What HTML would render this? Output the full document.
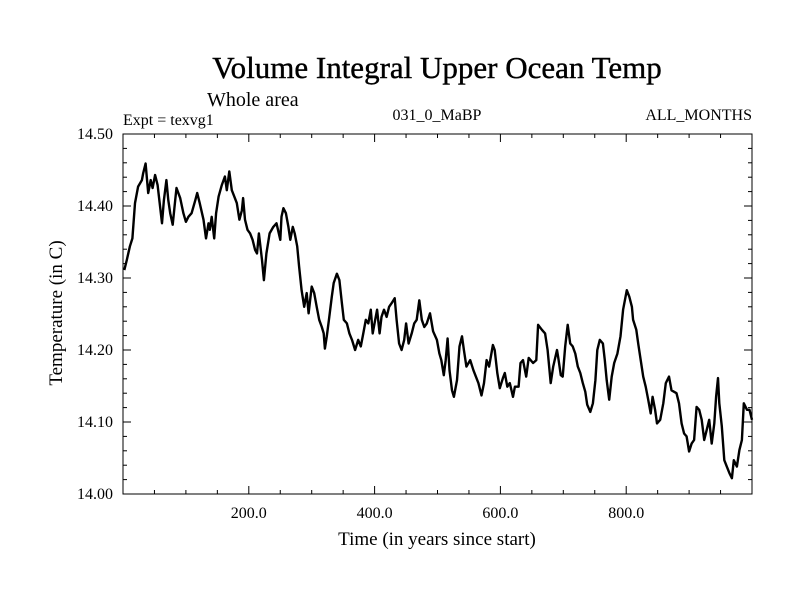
<!DOCTYPE html>
<html><head><meta charset="utf-8"><style>
html,body{margin:0;padding:0;background:#fff;width:800px;height:600px;overflow:hidden}
svg{display:block;font-family:"Liberation Serif",serif}
</style></head><body>
<svg id="chart" width="800" height="600" viewBox="0 0 800 600">
<text x="437" y="78" font-size="31" text-anchor="middle" stroke="#000" stroke-width="0.4">Volume Integral Upper Ocean Temp</text>
<text x="207" y="106" font-size="20">Whole area</text>
<text x="123" y="125" font-size="16">Expt = texvg1</text>
<text x="437" y="120" font-size="16" text-anchor="middle">031_0_MaBP</text>
<text x="752" y="120" font-size="16" text-anchor="end">ALL_MONTHS</text>
<text transform="translate(62,313) rotate(-90)" font-size="19" text-anchor="middle">Temperature (in C)</text>
<text x="437" y="545" font-size="19" text-anchor="middle">Time (in years since start)</text>
<g id="axes"></g>
<path id="series" fill="none" stroke="#000" stroke-width="2.4" stroke-linejoin="round"/>
<rect x="123" y="134" width="629" height="360" fill="none" stroke="#000" stroke-width="1"/>
</svg>
<script>
const years=[2,6,11,15,19,24,30,32,36,40,44,47,51,55,59,62,65,69,72,75,79,83,85,91,96,100,104,109,115,118,122,128,132,136,138,141,145,148,152,157,162,165,169,173,177,181,185,189,191,194,198,202,206,210,213,216,221,224,228,233,239,244,250,252,255,259,263,266,270,273,277,280,284,288,292,295,300,304,308,312,316,319,321,324,328,332,335,340,344,348,351,356,360,364,369,374,378,382,386,390,394,397,401,404,408,411,415,419,423,427,432,435,439,443,447,450,454,459,463,467,471,475,479,483,488,493,499,503,506,510,513,516,519,523,526,531,535,539,542,546,552,557,565,570,574,578,582,588,591,595,599,604,607,611,615,620,623,629,632,636,641,645,652,657,660,666,671,675,680,684,690,692,696,699,703,707,711,715,719,723,727,731,735,738,743,747,751,754,758,763,766,769,773,777,781,786,791,795,801,805,809,811,816,819,823,827,831,835,839,842,846,849,854,859,863,868,872,880,884,888,892,896,900,904,908,912,916,920,924,928,932,936,940,943,946,948,952,956,960,964,968,971,976,980,984,987,992,996,1000];
const temps=[14.311,14.325,14.344,14.355,14.404,14.427,14.436,14.445,14.459,14.418,14.436,14.425,14.443,14.429,14.399,14.376,14.408,14.436,14.408,14.390,14.374,14.408,14.425,14.411,14.390,14.378,14.385,14.390,14.408,14.418,14.404,14.381,14.355,14.376,14.367,14.385,14.355,14.390,14.413,14.429,14.441,14.422,14.448,14.422,14.413,14.404,14.381,14.394,14.411,14.381,14.367,14.362,14.353,14.339,14.334,14.362,14.325,14.297,14.334,14.362,14.371,14.376,14.353,14.385,14.397,14.390,14.371,14.353,14.371,14.362,14.344,14.316,14.283,14.260,14.279,14.251,14.288,14.279,14.260,14.242,14.232,14.223,14.202,14.219,14.246,14.274,14.293,14.306,14.297,14.265,14.242,14.237,14.223,14.214,14.200,14.214,14.205,14.223,14.242,14.237,14.256,14.223,14.242,14.256,14.223,14.246,14.256,14.246,14.260,14.265,14.272,14.242,14.209,14.200,14.214,14.237,14.209,14.223,14.237,14.242,14.269,14.242,14.232,14.237,14.251,14.226,14.214,14.195,14.186,14.165,14.186,14.216,14.172,14.144,14.135,14.158,14.205,14.219,14.200,14.177,14.186,14.172,14.154,14.137,14.154,14.186,14.177,14.207,14.200,14.168,14.147,14.161,14.168,14.149,14.154,14.135,14.149,14.149,14.182,14.186,14.163,14.189,14.182,14.186,14.235,14.228,14.223,14.200,14.154,14.177,14.200,14.189,14.165,14.163,14.205,14.235,14.209,14.205,14.195,14.177,14.168,14.154,14.142,14.124,14.114,14.126,14.158,14.200,14.214,14.209,14.186,14.158,14.131,14.163,14.182,14.195,14.219,14.256,14.283,14.274,14.260,14.242,14.228,14.209,14.186,14.163,14.149,14.131,14.112,14.135,14.117,14.098,14.103,14.126,14.154,14.163,14.144,14.140,14.126,14.098,14.084,14.080,14.059,14.070,14.075,14.121,14.117,14.103,14.075,14.089,14.103,14.070,14.098,14.135,14.161,14.126,14.094,14.047,14.038,14.029,14.022,14.047,14.038,14.061,14.075,14.126,14.117,14.117,14.103];
const xTicks=[200,400,600,800];
const xTickLabels=["200.0","400.0","600.0","800.0"];
const yTicks=[14.0,14.1,14.2,14.3,14.4,14.5];
const yTickLabels=["14.00","14.10","14.20","14.30","14.40","14.50"];
const X0=123,X1=752,Y0=494,Y1=134;
const xMin=0,xMax=1000,yMin=14.0,yMax=14.5;
const xs=v=>X0+(v-xMin)/(xMax-xMin)*(X1-X0);
const ys=v=>Y0-(v-yMin)/(yMax-yMin)*(Y0-Y1);
const NS="http://www.w3.org/2000/svg";
const g=document.getElementById('axes');
function line(x1,y1,x2,y2,name){const l=document.createElementNS(NS,'line');
l.setAttribute('x1',x1);l.setAttribute('y1',y1);l.setAttribute('x2',x2);l.setAttribute('y2',y2);
l.setAttribute('stroke','#000');l.setAttribute('stroke-width','1');


g.appendChild(l);}
function text(x,y,s,anchor,name){const t=document.createElementNS(NS,'text');
t.setAttribute('x',x);t.setAttribute('y',y);t.setAttribute('font-size','16');t.setAttribute('text-anchor',anchor);t.textContent=s;


g.appendChild(t);}
for(let v=50;v<1000;v+=50){const x=xs(v);const major=v%200===0;const L=major?8:4;
line(x,Y0,x,Y0-L,'x-tick');line(x,Y1,x,Y1+L,'x-tick-top');}
for(let i=0;i<=25;i++){const v=yMin+i*0.02;const y=ys(v);const major=i%5===0;const L=major?8:4;
line(X0,y,X0+L,y,'y-tick');line(X1,y,X1-L,y,'y-tick-right');}
xTicks.forEach((v,i)=>text(xs(v),518,xTickLabels[i],'middle','x-tick-label'));
yTicks.forEach((v,i)=>text(113,ys(v)+5,yTickLabels[i],'end','y-tick-label'));
let d='';years.forEach((v,i)=>{d+=(i?'L':'M')+xs(v).toFixed(1)+','+ys(temps[i]).toFixed(1);});
document.getElementById('series').setAttribute('d',d);
</script>
</body></html>
